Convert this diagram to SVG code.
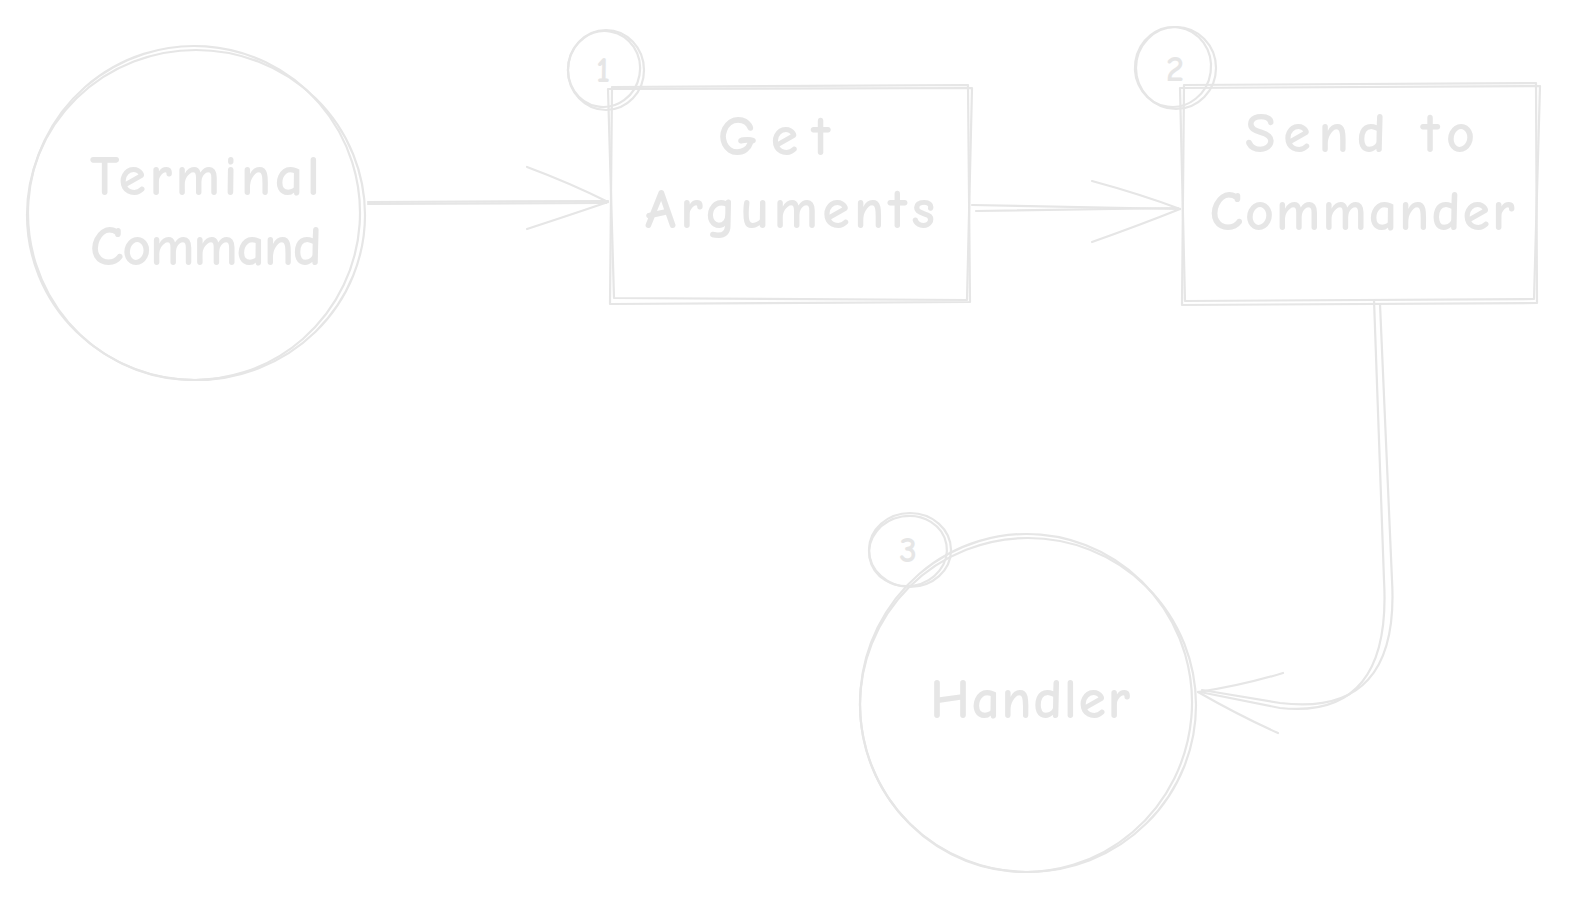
<svg xmlns="http://www.w3.org/2000/svg" width="1594" height="915" viewBox="0 0 1594 915">
<style>
.s{fill:none;stroke:#e6e6e6;stroke-width:2.2;stroke-linecap:round;stroke-linejoin:round}
.t{font-family:"Comic Neue","Noto Sans","DejaVu Sans",sans-serif;fill:#e6e6e6;text-anchor:middle;font-weight:bold}
.big{font-size:56px}
.num{font-size:36px}
</style>
<rect width="1594" height="915" fill="#ffffff"/>
<g id="terminal">
<ellipse class="s" cx="196" cy="215" rx="169" ry="165"/>
<ellipse class="s" cx="194" cy="213" rx="166" ry="167" transform="rotate(4 194 213)"/>
<text class="t big" x="205" y="195" textLength="230">Terminal</text>
<text class="t big" x="206" y="265" textLength="232">Command</text>
</g>
<g id="getargs">
<path class="s" d="M612 87 L968 85 L970 302 L610 304 Z"/>
<path class="s" d="M608 89 L972 88 L967 300 L614 298 Z"/>
<text class="t big" x="774" y="155" textLength="112">Get</text>
<text class="t big" x="790" y="228" textLength="290">Arguments</text>
</g>
<g id="badge1">
<ellipse class="s" cx="606" cy="70" rx="38" ry="40"/>
<ellipse class="s" cx="604" cy="69" rx="36" ry="38" transform="rotate(10 604 69)"/>
<text class="t num" x="603" y="82">1</text>
</g>
<g id="sendto">
<path class="s" d="M1184 85 L1536 83 L1537 303 L1182 305 Z"/>
<path class="s" d="M1180 88 L1540 86 L1534 299 L1185 301 Z"/>
<text class="t big" x="1360" y="152" textLength="230">Send to</text>
<text class="t big" x="1362" y="230" textLength="305">Commander</text>
</g>
<g id="badge2">
<ellipse class="s" cx="1176" cy="68" rx="40" ry="41"/>
<ellipse class="s" cx="1173" cy="67" rx="38" ry="40" transform="rotate(8 1173 67)"/>
<text class="t num" x="1175" y="81">2</text>
</g>
<g id="handler">
<ellipse class="s" cx="1028" cy="705" rx="168" ry="167"/>
<ellipse class="s" cx="1026" cy="703" rx="166" ry="169" transform="rotate(5 1026 703)"/>
<text class="t big" x="1030" y="718" textLength="200">Handler</text>
</g>
<g id="badge3">
<ellipse class="s" cx="910" cy="550" rx="41" ry="37"/>
<ellipse class="s" cx="908" cy="551" rx="39" ry="35" transform="rotate(-10 908 551)"/>
<text class="t num" x="908" y="562">3</text>
</g>
<g id="connectors">
<path class="s" d="M368 202 L608 201"/>
<path class="s" d="M368 204 L606 203"/>
<path class="s" d="M527 167 Q570 183 608 202 M527 229 Q570 215 608 202"/>
<path class="s" d="M972 205 L1180 209"/>
<path class="s" d="M976 211 L1178 208"/>
<path class="s" d="M1092 181 Q1140 194 1180 209 M1092 242 Q1140 225 1180 209"/>
<path class="s" d="M1374 300 L1384 580 Q1392 720 1280 708 L1200 692"/>
<path class="s" d="M1380 304 L1392 580 Q1400 718 1280 703 L1202 690"/>
<path class="s" d="M1283 673 Q1240 686 1198 692 M1278 733 Q1240 716 1198 692"/>
</g>
</svg>
